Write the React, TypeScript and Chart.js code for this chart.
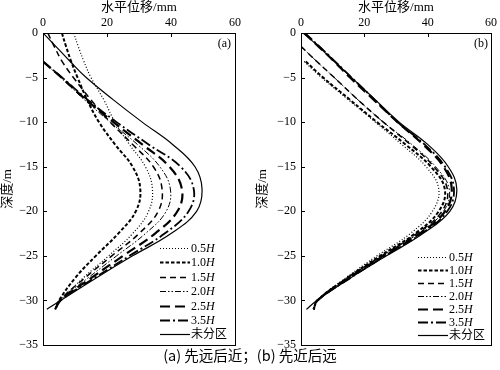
import React, { useEffect, useRef } from 'react';
import { Chart, registerables } from 'chart.js';

Chart.register(...registerables);

// ---------- data ----------
const DEPTHS = [0, -1.5, -3.2, -5, -7.5, -10, -12.5, -15, -17.5, -20, -22.5, -25, -27.5, -30, -31];
const SERIES_LABELS = ['0.5H', '1.0H', '1.5H', '2.0H', '2.5H', '3.5H', '未分区'];
const X_TICKS = [0, 20, 40, 60];
const Y_TICKS = [0, -5, -10, -15, -20, -25, -30, -35];
const X_TITLE = '水平位移/mm';
const Y_TITLE = '深度/m';
const CAPTION = '(a) 先远后近；(b) 先近后远';

// (a) 先远后近
const A_05H = [9.6, 11, 12.8, 15, 19, 22.5, 27, 32, 34.2, 33, 28, 20.5, 12.5, 5.5, 3.8];
const A_10H = [5.9, 7.2, 8.8, 10.8, 13.8, 17.5, 22.5, 28, 30.4, 29, 23.5, 16.5, 10, 5, 3.8];
const A_15H = [1.5, 3.5, 6, 9.5, 15, 21, 28, 34.5, 37.2, 36, 30, 21.5, 13, 5.2, 3.8];
const A_20H = [null, null, 0, 5.5, 13, 21, 29.5, 36.5, 39.8, 38.5, 32, 23, 14, 5.2, 3.8];
const A_25H = [null, null, 0, 5.8, 13.5, 22, 31, 39.5, 43.4, 42, 35, 25, 15, 5.4, 3.8];
const A_35H = [null, null, 0, 6, 14, 23, 33, 43, 47.1, 45.5, 38, 27, 16, 5.5, 3.8];
const A_NONE = [0, 4, 8.5, 13.5, 22, 31, 40.5, 47.5, 49.7, 48, 40, 28, 16.5, 5.5, 1.2];

// (b) 先近后远
const B_05H = [null, null, 1, 6.5, 15, 23.5, 31.8, 39.5, 43.5, 41.5, 34.5, 24, 14, 5, 4];
const B_10H = [null, null, 1.5, 7, 15.5, 24, 33, 41, 45.4, 43.5, 36, 25, 14.5, 5.2, 4];
const B_15H = [null, 0, 5, 10.5, 18, 26, 34.5, 42, 46.2, 44.5, 36.5, 25.5, 14.5, 5.2, 4];
const B_20H = [null, 0, 5, 10.5, 18, 26, 35, 42.5, 46.8, 45, 37, 25.5, 14.8, 5.2, 4];
const B_25H = [1, 5.5, 10.5, 15.5, 23, 30.5, 38.5, 45, 47.6, 45.5, 37.5, 26, 15, 5.2, 4];
const B_35H = [1.2, 5.8, 10.8, 16, 23.3, 30.5, 39, 45.5, 48.3, 46.2, 38, 26.5, 15.5, 5.2, 4];
const B_NONE = [0.7, 5.5, 10.5, 16, 23.5, 31, 40, 46.5, 49.2, 47, 38.5, 27, 15.5, 5, 1.7];

const SERIES_A = [A_05H, A_10H, A_15H, A_20H, A_25H, A_35H, A_NONE];
const SERIES_B = [B_05H, B_10H, B_15H, B_20H, B_25H, B_35H, B_NONE];

// ---------- styles ----------
const LINE_STYLES = [
  { dash: [1, 2], width: 1.2 },
  { dash: [3.5, 2], width: 2 },
  { dash: [6, 4], width: 1.5 },
  { dash: [6, 2, 1.5, 2, 1.5, 2], width: 1 },
  { dash: [10, 5], width: 2.2 },
  { dash: [10, 3, 2, 3], width: 1.8 },
  { dash: [], width: 1.2 },
];

const SERIF = '"Times New Roman", "Liberation Serif", Times, "Noto Sans CJK SC", serif';

function minus(v: number): string {
  return v < 0 ? '\u2212' + Math.abs(v) : String(v);
}

type PanelCfg = {
  series: (number | null)[][];
  tag: string;
  yAxisWidth: number;
  padRight: number;
  yTitleX: number;
  tagX: number;
  legX0: number;
  legX1: number;
  legY0: number;
  legDy: number;
};

const decorPlugin = {
  id: 'decor',
  afterDraw(chart: any, _args: any, opts: any) {
    const ctx = chart.ctx as CanvasRenderingContext2D;
    const ca = chart.chartArea;
    const xs = chart.scales.x;
    const ys = chart.scales.y;
    ctx.save();
    ctx.strokeStyle = '#000';
    ctx.lineWidth = 1;
    ctx.setLineDash([]);
    ctx.strokeRect(Math.round(ca.left) + 0.5, Math.round(ca.top) + 0.5, Math.round(ca.right - ca.left), Math.round(ca.bottom - ca.top));
    ctx.beginPath();
    X_TICKS.forEach((t) => {
      const px = Math.round(xs.getPixelForValue(t)) + 0.5;
      ctx.moveTo(px, ca.top);
      ctx.lineTo(px, ca.top + 4);
    });
    Y_TICKS.forEach((t) => {
      const py = Math.round(ys.getPixelForValue(t)) + 0.5;
      ctx.moveTo(ca.left, py);
      ctx.lineTo(ca.left + 4, py);
    });
    ctx.stroke();
    ctx.fillStyle = '#000';
    ctx.font = `13px ${SERIF}`;
    ctx.textAlign = 'center';
    ctx.textBaseline = 'middle';
    ctx.fillText(X_TITLE, (ca.left + ca.right) / 2, 8);
    ctx.save();
    ctx.translate(opts.yTitleX, (ca.top + ca.bottom) / 2);
    ctx.rotate(-Math.PI / 2);
    ctx.fillText(Y_TITLE, 0, 0);
    ctx.restore();
    ctx.font = `12px ${SERIF}`;
    ctx.textAlign = 'right';
    ctx.fillText(opts.tag, opts.tagX, 44);
    chart.data.datasets.forEach((ds: any, i: number) => {
      const y = Math.round(opts.legY0 + i * opts.legDy) + 0.5;
      ctx.beginPath();
      ctx.setLineDash(ds.borderDash || []);
      ctx.lineWidth = ds.borderWidth;
      ctx.moveTo(opts.legX0, y);
      ctx.lineTo(opts.legX1, y);
      ctx.stroke();
      ctx.setLineDash([]);
      const label: string = ds.label;
      ctx.textAlign = 'left';
      let x = opts.legX1 + 1;
      if (label.endsWith('H')) {
        const num = label.slice(0, -1);
        ctx.font = `12px ${SERIF}`;
        ctx.fillText(num, x, y);
        x += ctx.measureText(num).width;
        ctx.font = `italic 12px ${SERIF}`;
        ctx.fillText('H', x, y);
      } else {
        ctx.font = `12px ${SERIF}`;
        ctx.fillText(label, x, y);
      }
    });
    ctx.restore();
  },
};

function Panel({ cfg }: { cfg: PanelCfg }) {
  const ref = useRef<HTMLCanvasElement | null>(null);
  useEffect(() => {
    if (!ref.current) return;
    const datasets = cfg.series.map((vals, i) => ({
      label: SERIES_LABELS[i],
      data: vals
        .map((v, j) => (v === null ? null : { x: v, y: DEPTHS[j] }))
        .filter((p) => p !== null),
      showLine: true,
      borderColor: '#000',
      backgroundColor: '#000',
      borderWidth: LINE_STYLES[i].width,
      borderDash: LINE_STYLES[i].dash,
      pointRadius: 0,
      tension: 0.4,
      fill: false,
    }));
    const chart = new Chart(ref.current, {
      type: 'scatter',
      data: { datasets } as any,
      options: {
        animation: false,
        responsive: false,
        layout: { padding: { left: 0, right: cfg.padRight, top: 0, bottom: 25 } },
        plugins: {
          legend: { display: false },
          tooltip: { enabled: false },
          decor: cfg,
        } as any,
        scales: {
          x: {
            type: 'linear',
            position: 'top',
            min: 0,
            max: 60,
            afterFit: (s: any) => {
              s.height = 33;
            },
            afterBuildTicks: (s: any) => {
              s.ticks = X_TICKS.map((v) => ({ value: v }));
            },
            grid: { display: false, drawTicks: false },
            border: { display: false },
            ticks: {
              padding: 3,
              color: '#000',
              font: { family: SERIF, size: 12 },
              callback: (v: any) => minus(Number(v)),
            },
          },
          y: {
            type: 'linear',
            min: -35,
            max: 0,
            afterFit: (s: any) => {
              s.width = cfg.yAxisWidth;
            },
            afterBuildTicks: (s: any) => {
              s.ticks = Y_TICKS.map((v) => ({ value: v }));
            },
            grid: { display: false, drawTicks: false },
            border: { display: false },
            ticks: {
              padding: 5,
              color: '#000',
              font: { family: SERIF, size: 12 },
              callback: (v: any) => minus(Number(v)),
            },
          },
        },
      } as any,
      plugins: [decorPlugin],
    });
    return () => chart.destroy();
  }, [cfg]);
  return <canvas ref={ref} width={250} height={370} style={{ display: 'block' }} />;
}

const PANEL_A: PanelCfg = {
  series: SERIES_A,
  tag: '(a)',
  yAxisWidth: 43,
  padRight: 15,
  yTitleX: 8,
  tagX: 231,
  legX0: 160,
  legX1: 190,
  legY0: 248,
  legDy: 14.4,
};

const PANEL_B: PanelCfg = {
  series: SERIES_B,
  tag: '(b)',
  yAxisWidth: 51,
  padRight: 5,
  yTitleX: 13,
  tagX: 238,
  legX0: 168,
  legX1: 198,
  legY0: 257,
  legDy: 13,
};

export default function App() {
  useEffect(() => {
    document.body.style.margin = '0';
  }, []);
  return (
    <div style={{ position: 'relative', width: 500, height: 370, background: '#fff', overflow: 'hidden' }}>
      <div style={{ position: 'absolute', left: 0, top: 0 }}>
        <Panel cfg={PANEL_A} />
      </div>
      <div style={{ position: 'absolute', left: 250, top: 0 }}>
        <Panel cfg={PANEL_B} />
      </div>
      <div
        style={{
          position: 'absolute',
          left: 0,
          width: 500,
          top: 345,
          textAlign: 'center',
          fontFamily: "'Noto Sans CJK SC', sans-serif",
          fontSize: 14.5,
          lineHeight: '20px',
          color: '#000',
        }}
      >
        {CAPTION}
      </div>
    </div>
  );
}
